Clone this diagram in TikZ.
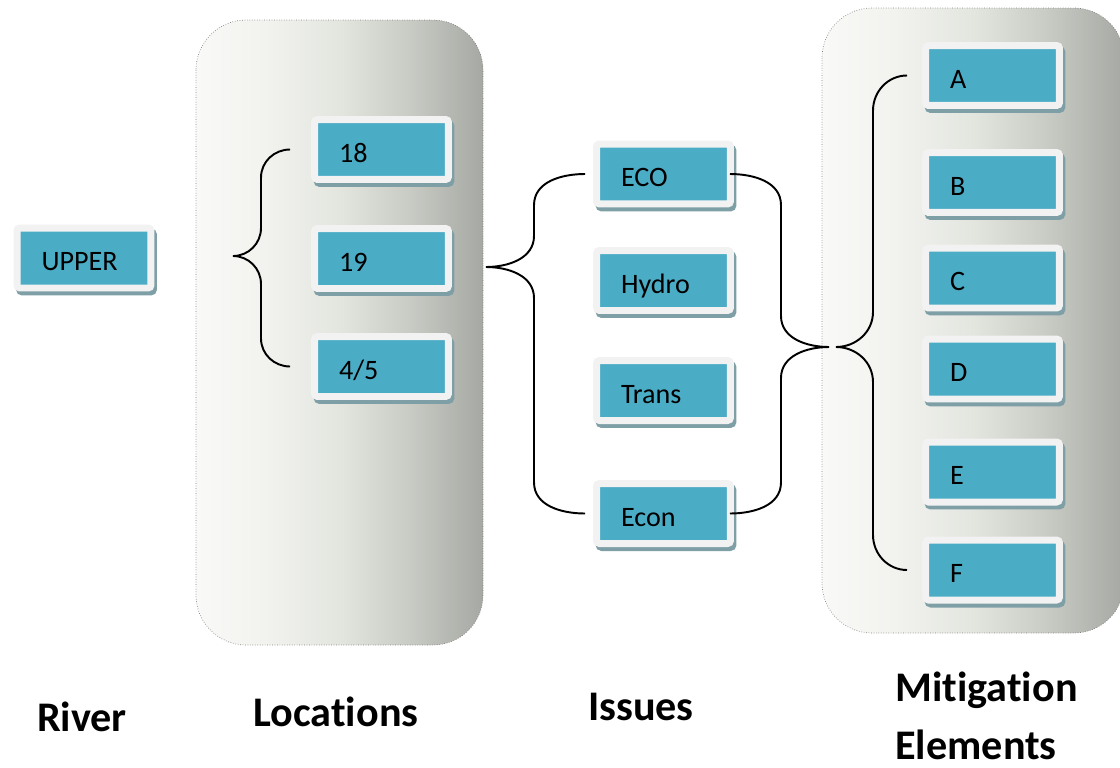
\documentclass[tikz,border=0pt]{standalone}
\usepackage{fontspec}
\setmainfont{Carlito}[Ligatures={NoCommon,NoRare}]
\usetikzlibrary{calc}

\definecolor{boxteal}{HTML}{4BACC6}
\definecolor{boxrim}{HTML}{F2F2F2}
\definecolor{boxshade}{HTML}{7F9FA7}
\definecolor{panelleft}{HTML}{F9FAF7}
\definecolor{panelpale}{HTML}{F2F3EF}
\definecolor{panelmid}{HTML}{E3E5DF}
\definecolor{paneldark}{HTML}{C9CBC5}
\definecolor{panelright}{HTML}{A6A8A3}

\pgfdeclarehorizontalshading{panelshade}{100bp}{%
  color(0bp)=(panelleft); color(25bp)=(panelleft); color(37bp)=(panelpale);
  color(50bp)=(panelmid); color(62bp)=(paneldark);
  color(75bp)=(panelright); color(100bp)=(panelright)}

\tikzset{
  item/.style={rectangle, rounded corners=0.06cm, fill=boxteal, draw=boxrim,
    line width=0.14cm, minimum width=2.68cm, minimum height=1.2cm,
    inner xsep=0.49cm, text width=1.7cm, align=left,
    text height=0.5cm, text depth=0cm,
    font=\fontsize{16}{18}\selectfont,
    preaction={draw=boxshade, fill=boxshade,
      transform canvas={xshift=0.05cm, yshift=-0.08cm}}},
  panel/.style={draw=gray, densely dotted, line width=0.4pt,
    rounded corners=1cm, shading=panelshade},
  brace/.style={line width=1.1pt},
  heading/.style={inner sep=0pt, font=\fontsize{24}{33}\selectfont\bfseries}
}

\begin{document}
\begin{tikzpicture}[x=0.02cm,y=-0.02cm]
  \useasboundingbox (0,0) rectangle (1120,768);
  \clip (0,0) rectangle (1120,768);

  % shaded panels
  \path[panel] (196,20) rectangle (483,645);
  \path[panel] (822,8) rectangle (1124,633);

  % river
  \node[item] (upper) at (84,258) {UPPER};

  % locations
  \node[item] (l18) at (381.5,149.5) {18};
  \node[item] (l19) at (381.5,258.5) {19};
  \node[item] (l45) at (381.5,366.5) {4/5};

  % issues
  \foreach \nm/\txt/\y in {ECO/ECO/174, Hydro/Hydro/280.5, Trans/Trans/390.5, Econ/Econ/513.5}
    \node[item] (i\nm) at (663.5,\y) {\txt};

  % mitigation elements
  \foreach \nm/\y in {A/75.5, B/182.5, C/278, D/369, E/472, F/570}
    \node[item] (m\nm) at (992.5,\y) {\nm};

  % brace tips
  \coordinate (locTip) at (233,256);
  \coordinate (issTip) at (486,267);
  \coordinate (mitTip) at (829,347);
  \coordinate (elTip) at (836,347);

  % braces
  \draw[brace] ([xshift=-0.42cm]l18.west) to[out=180,in=90] ++(-29,28)
    -- ($(locTip)+(28,-28)$) to[out=-90,in=0] (locTip)
    to[out=0,in=90] ++(28,28)
    -- ($(l45.west)+(-50,-28)$) to[out=-90,in=180] ([xshift=-0.42cm]l45.west);

  \draw[brace] ([xshift=-0.16cm]iECO.west) to[out=180,in=90] ++(-51,31)
    -- ($(issTip)+(48,-31)$) to[out=-90,in=0] (issTip)
    to[out=0,in=90] ++(48,31)
    -- ($(iEcon.west)+(-59,-31)$) to[out=-90,in=180] ([xshift=-0.16cm]iEcon.west);

  \draw[brace] ([xshift=-0.08cm]iECO.east) to[out=0,in=90] ++(51,31)
    -- ($(mitTip)+(-48,-31)$) to[out=-90,in=180] (mitTip)
    to[out=180,in=90] ++(-48,31)
    -- ($(iEcon.east)+(47,-31)$) to[out=-90,in=0] ([xshift=-0.08cm]iEcon.east);

  \draw[brace] ([xshift=-0.3cm]mA.west) to[out=180,in=90] ++(-34,35)
    -- ($(elTip)+(37,-35)$) to[out=-90,in=0] (elTip)
    to[out=0,in=90] ++(37,35)
    -- ($(mF.west)+(-49,-35)$) to[out=-90,in=180] ([xshift=-0.3cm]mF.west);

  % column headings
  \node[heading] (river) at (82,717) {River};
  \node[heading] (locs) at (336,712) {Locations};
  \node[heading] (issues) at (641,707) {Issues};
  \node[heading, align=left, anchor=west] (mitig) at (895,716) {Mitigation\\Elements};
\end{tikzpicture}
\end{document}
